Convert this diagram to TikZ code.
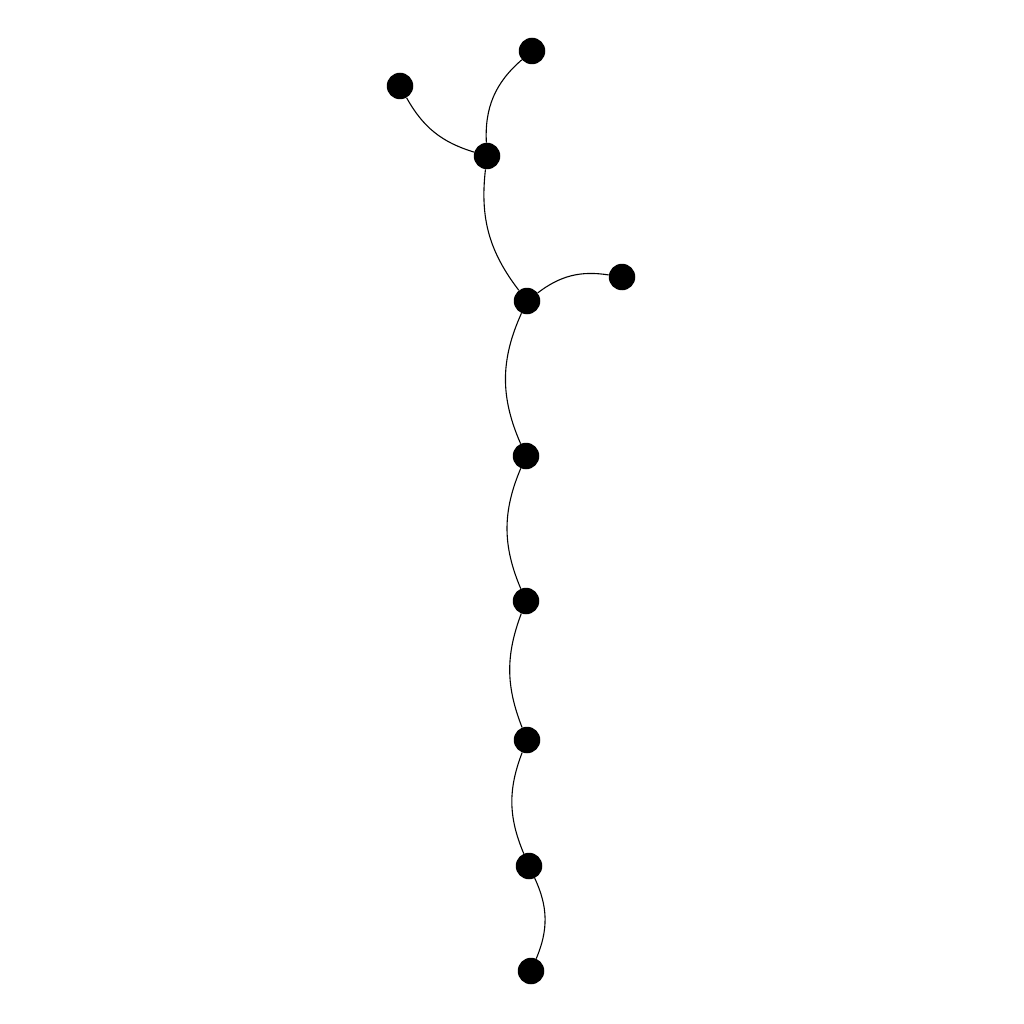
\documentclass[tikz,border=0pt]{standalone}
\begin{document}
\begin{tikzpicture}[x=1pt,y=-1pt,
  dot/.style={circle,fill=black,inner sep=0pt,minimum size=26.5pt},
  edge/.style={draw=black,line width=1.1pt}]
\useasboundingbox (0,0) rectangle (1024,1024);
\node[dot] (A) at (532,51) {};
\node[dot] (B) at (400,86) {};
\node[dot] (C) at (487,156) {};
\node[dot] (D) at (622,277) {};
\node[dot] (E) at (527,301) {};
\node[dot] (F) at (526,456) {};
\node[dot] (G) at (526,601) {};
\node[dot] (H) at (527,740) {};
\node[dot] (I) at (529,866) {};
\node[dot] (J) at (531,971) {};
\draw[edge] (A) to[bend right=26] (C);
\draw[edge] (B) to[bend right=22] (C);
\draw[edge] (C) to[bend right=22] (E);
\draw[edge] (E) to[bend left=23] (D);
\draw[edge] (E) to[bend right=24] (F);
\draw[edge] (F) to[bend right=23] (G);
\draw[edge] (G) to[bend right=21] (H);
\draw[edge] (H) to[bend right=22] (I);
\draw[edge] (I) to[bend left=24] (J);
\end{tikzpicture}
\end{document}
